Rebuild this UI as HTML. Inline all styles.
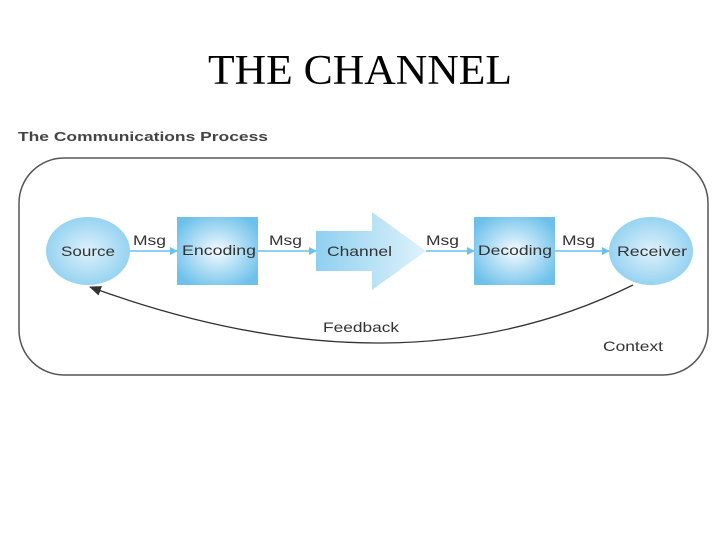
<!DOCTYPE html>
<html><head><meta charset="utf-8"><style>
body{margin:0;background:#fff;width:720px;height:540px;overflow:hidden}
</style></head><body>
<svg width="720" height="540" xmlns="http://www.w3.org/2000/svg">
<defs>
<radialGradient id="g" cx="50%" cy="50%" r="60%">
<stop offset="0" stop-color="#f4fbff"/><stop offset="1" stop-color="#6cc0ea"/>
</radialGradient>
<radialGradient id="ge" cx="50%" cy="50%" r="55%">
<stop offset="0" stop-color="#dff1fb"/><stop offset="1" stop-color="#8fd0f0"/>
</radialGradient>
<linearGradient id="ga" x1="0" x2="1">
<stop offset="0" stop-color="#8fd0f0"/><stop offset="1" stop-color="#dff2fb"/>
</linearGradient>
<marker id="m" markerWidth="8" markerHeight="8" refX="7" refY="4" orient="auto" markerUnits="userSpaceOnUse">
<path d="M0,0 L8,4 L0,8z" fill="#6cc0ea"/></marker>
<marker id="fb" markerWidth="12" markerHeight="10" refX="11" refY="5" orient="auto" markerUnits="userSpaceOnUse">
<path d="M0,0 L12,5 L0,10z" fill="#333"/></marker>
</defs>
<text x="208" y="84" textLength="304" lengthAdjust="spacingAndGlyphs" font-family="Liberation Serif,serif" font-size="42" fill="#000">THE CHANNEL</text>
<text x="18" y="141" textLength="250" lengthAdjust="spacingAndGlyphs" font-family="Liberation Sans,sans-serif" font-size="13" font-weight="bold" fill="#444">The Communications Process</text>
<rect x="19" y="158" width="689" height="217" rx="45" fill="none" stroke="#555" stroke-width="1.5"/>
<ellipse cx="88" cy="251" rx="42" ry="34" fill="url(#ge)"/>
<ellipse cx="651" cy="251" rx="42" ry="34" fill="url(#ge)"/>
<rect x="177" y="217" width="81" height="68" fill="url(#g)"/>
<rect x="474" y="217" width="81" height="68" fill="url(#g)"/>
<path d="M316,231 L372,231 L372,212 L426,251 L372,290 L372,271 L316,271z" fill="url(#ga)"/>
<g stroke="#6cc0ea" stroke-width="1.5" marker-end="url(#m)">
<line x1="130" y1="251" x2="177" y2="251"/>
<line x1="258" y1="251" x2="316" y2="251"/>
<line x1="426" y1="251" x2="474" y2="251"/>
<line x1="555" y1="251" x2="609" y2="251"/>
</g>
<path d="M633,285 Q400,400 90,287" fill="none" stroke="#333" stroke-width="1.3" marker-end="url(#fb)"/>
<g font-family="Liberation Sans,sans-serif" font-size="14" fill="#333" lengthAdjust="spacingAndGlyphs">
<text x="133" y="245" textLength="33" lengthAdjust="spacingAndGlyphs">Msg</text>
<text x="269" y="245" textLength="33" lengthAdjust="spacingAndGlyphs">Msg</text>
<text x="426" y="245" textLength="33" lengthAdjust="spacingAndGlyphs">Msg</text>
<text x="562" y="245" textLength="33" lengthAdjust="spacingAndGlyphs">Msg</text>
<text x="61" y="256" textLength="54" lengthAdjust="spacingAndGlyphs">Source</text>
<text x="182" y="255" textLength="74" lengthAdjust="spacingAndGlyphs">Encoding</text>
<text x="327" y="256" textLength="65" lengthAdjust="spacingAndGlyphs">Channel</text>
<text x="478" y="255" textLength="74" lengthAdjust="spacingAndGlyphs">Decoding</text>
<text x="617" y="256" textLength="70" lengthAdjust="spacingAndGlyphs">Receiver</text>
<text x="323" y="332" textLength="76" lengthAdjust="spacingAndGlyphs">Feedback</text>
<text x="603" y="351" textLength="60" lengthAdjust="spacingAndGlyphs">Context</text>
</g>
</svg>
</body></html>
